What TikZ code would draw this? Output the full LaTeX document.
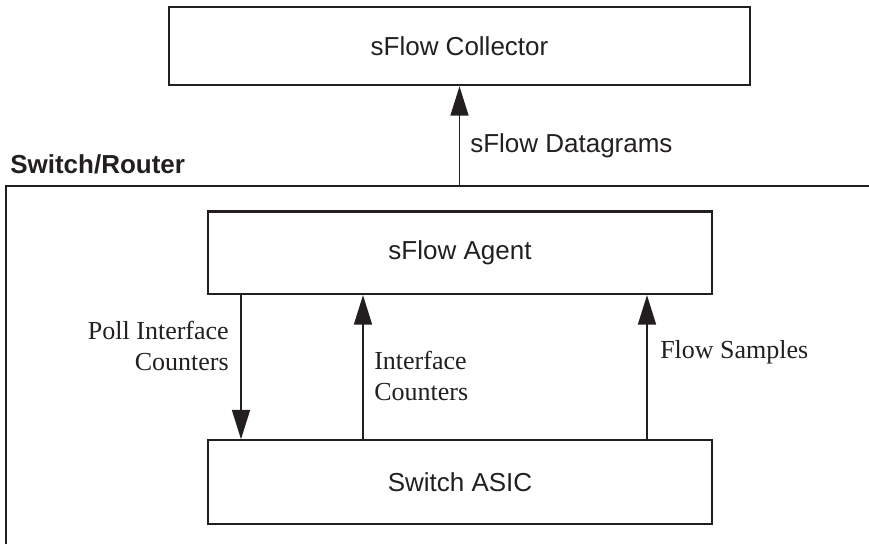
\documentclass[tikz,border=0pt]{standalone}
\usepackage{fontspec}
\setmainfont{Liberation Serif}
\setsansfont{Liberation Sans}
\usepackage{tikz}
\usetikzlibrary{arrows.meta,positioning,calc}
\definecolor{cInk}{HTML}{231F20}
\newcommand{\boxfont}{\fontsize{19.5}{23.4}\selectfont\sffamily}
\newcommand{\notefont}{\fontsize{19.5}{23.4}\selectfont\rmfamily}
\tikzset{
  unit/.style   = {draw=cInk, line width=2pt, text=cInk, font=\boxfont,
                   minimum width=378pt, minimum height=62pt, inner sep=0pt},
  chip/.style   = {unit, line width=1.1pt},
  note/.style   = {text=cInk, font=\notefont, inner sep=0pt},
  arr/.style    = {cInk, line width=1.1pt,
                   -{Triangle[length=22pt, width=13.5pt]}},
  frame/.style  = {cInk, line width=2pt},
}

\begin{document}
\begin{tikzpicture}[x=0.75pt, y=-0.75pt]
  \useasboundingbox (0,0) rectangle (869,544);
  % collector outside the box
  \node[unit, minimum width=435.75pt, minimum height=58.5pt] (coll) at (459.5,46) {sFlow Collector};
  % switch/router enclosure (open to right and bottom)
  \coordinate (fr) at (6,186);
  \draw[frame] (fr |- 0,544) -- (fr) -- (869,186);
  \node[text=cInk, font=\boxfont\bfseries, anchor=base west, inner sep=0pt] (sr) at (10,173) {Switch/Router};
  \node[unit] (agent) at (460,252.5) {sFlow Agent};
  \node[chip, minimum height=63pt] (asic) at (460,482) {Switch ASIC};
  % datagrams up to collector
  \draw[arr] (coll.south |- fr) -- (coll.south);
  \node[text=cInk, font=\boxfont, anchor=base west, inner sep=0pt] (dg) at (470,152) {sFlow Datagrams};
  % arrows between agent and asic
  \coordinate (poll) at (241,0);
  \coordinate (ifc) at (363,0);
  \coordinate (flow) at (647,0);
  \draw[arr] (poll |- agent.south) -- (poll |- asic.north);
  \draw[arr] (ifc |- asic.north) -- (ifc |- agent.south);
  \draw[arr] (flow |- asic.north) -- (flow |- agent.south);
  \node[note, align=right, anchor=east] (pl) at (229,346) {Poll Interface\\Counters};
  \node[note, align=left, anchor=west] (il) at (374,376) {Interface\\Counters};
  \node[note, anchor=west] (fl) at (660,352) {Flow Samples};
\end{tikzpicture}
\end{document}
